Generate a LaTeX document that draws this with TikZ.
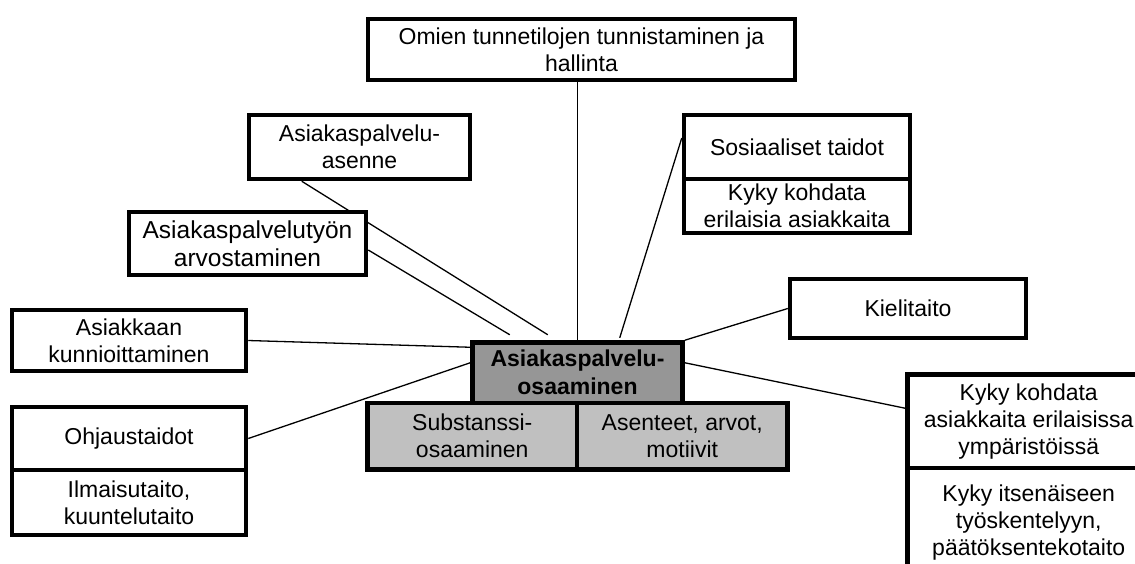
\documentclass[tikz,border=0pt]{standalone}
\usepackage{fontspec}
\setmainfont{Liberation Sans}
\usetikzlibrary{backgrounds}
\definecolor{hubgray}{RGB}{150,150,150}
\definecolor{basegray}{RGB}{192,192,192}
\tikzset{
  box/.style={draw=black, line width=4.5pt, fill=white, inner sep=0pt,
    align=center, font=\fontsize{23}{27}\selectfont},
  widebox/.style={box, font=\fontsize{24.5}{28}\selectfont},
  hubbox/.style={box, fill=hubgray, font=\fontsize{23}{28}\selectfont\bfseries},
  basebox/.style={box, fill=basegray},
  link/.style={draw=black, line width=1.3pt}
}
\begin{document}
\begin{tikzpicture}[x=1pt, y=-1pt]
\useasboundingbox (0,0) rectangle (1135,563);
\clip (0,0) rectangle (1135,563);

% central competence and its two foundations
\node[hubbox, minimum width=210pt, minimum height=60.5pt] (hub) at (577.5,372.75)
  {Asiakaspalvelu-\\osaaminen};
\node[basebox, minimum width=209.5pt, minimum height=66.5pt] (subst) at (472.25,436.25)
  {Substanssi-\\osaaminen};
\node[basebox, minimum width=210.5pt, minimum height=66.5pt] (asent) at (682.25,436.25)
  {Asenteet, arvot,\\motiivit};

% surrounding skills
\node[box, minimum width=427pt, minimum height=61pt] (tunne) at (581.5,49.5)
  {Omien tunnetilojen tunnistaminen ja\\hallinta};
\node[box, minimum width=221pt, minimum height=64pt] (asenne) at (359.5,147)
  {Asiakaspalvelu-\\asenne};
\node[widebox, minimum width=237pt, minimum height=63pt] (arvo) at (247.5,243.5)
  {Asiakaspalvelutyön\\arvostaminen};
\node[box, minimum width=234pt, minimum height=61pt] (kunn) at (129,340.5)
  {Asiakkaan\\kunnioittaminen};
\node[box, minimum width=234pt, minimum height=63pt] (ohj) at (129,438.5)
  {Ohjaustaidot};
\node[box, minimum width=234pt, minimum height=65pt] (ilm) at (129,502.5)
  {Ilmaisutaito,\\kuuntelutaito};
\node[box, minimum width=226pt, minimum height=64pt] (sos) at (797,147)
  {Sosiaaliset taidot};
\node[box, minimum width=226pt, minimum height=54pt] (kohd) at (797,206)
  {Kyky kohdata\\erilaisia asiakkaita};
\node[box, minimum width=236pt, minimum height=59pt] (kieli) at (908,308.5)
  {Kielitaito};
\node[box, minimum width=242.5pt, minimum height=93.5pt] (ymp) at (1028.75,421.25)
  {Kyky kohdata\\asiakkaita erilaisissa\\ympäristöissä};
\node[box, minimum width=242.5pt, minimum height=110pt] (itse) at (1028.75,523)
  {Kyky itsenäiseen\\työskentelyyn,\\päätöksentekotaito};

% spokes from the hub to each skill
\begin{scope}[on background layer]
\draw[link] (tunne.south -| hub.north) -- (hub.north);
\draw[link] ([xshift=55pt]asenne.south west) -- ([xshift=77.5pt,yshift=5.5pt]hub.north west);
\draw[link] ([yshift=-6.5pt]arvo.east) -- ([xshift=39.5pt,yshift=5.5pt]hub.north west);
\draw[link] (kunn.east) -- ([yshift=-7pt]hub.north west);
\draw[link] (ohj.east) -- ([yshift=10pt]hub.west);
\draw[link] ([yshift=9pt]sos.west) -- ([xshift=149.5pt,yshift=2.5pt]hub.north west);
\draw[link] (kieli.west) -- (hub.north east);
\draw[link] ([yshift=13pt]ymp.west) -- ([yshift=10pt]hub.east);
\end{scope}
\end{tikzpicture}
\end{document}
